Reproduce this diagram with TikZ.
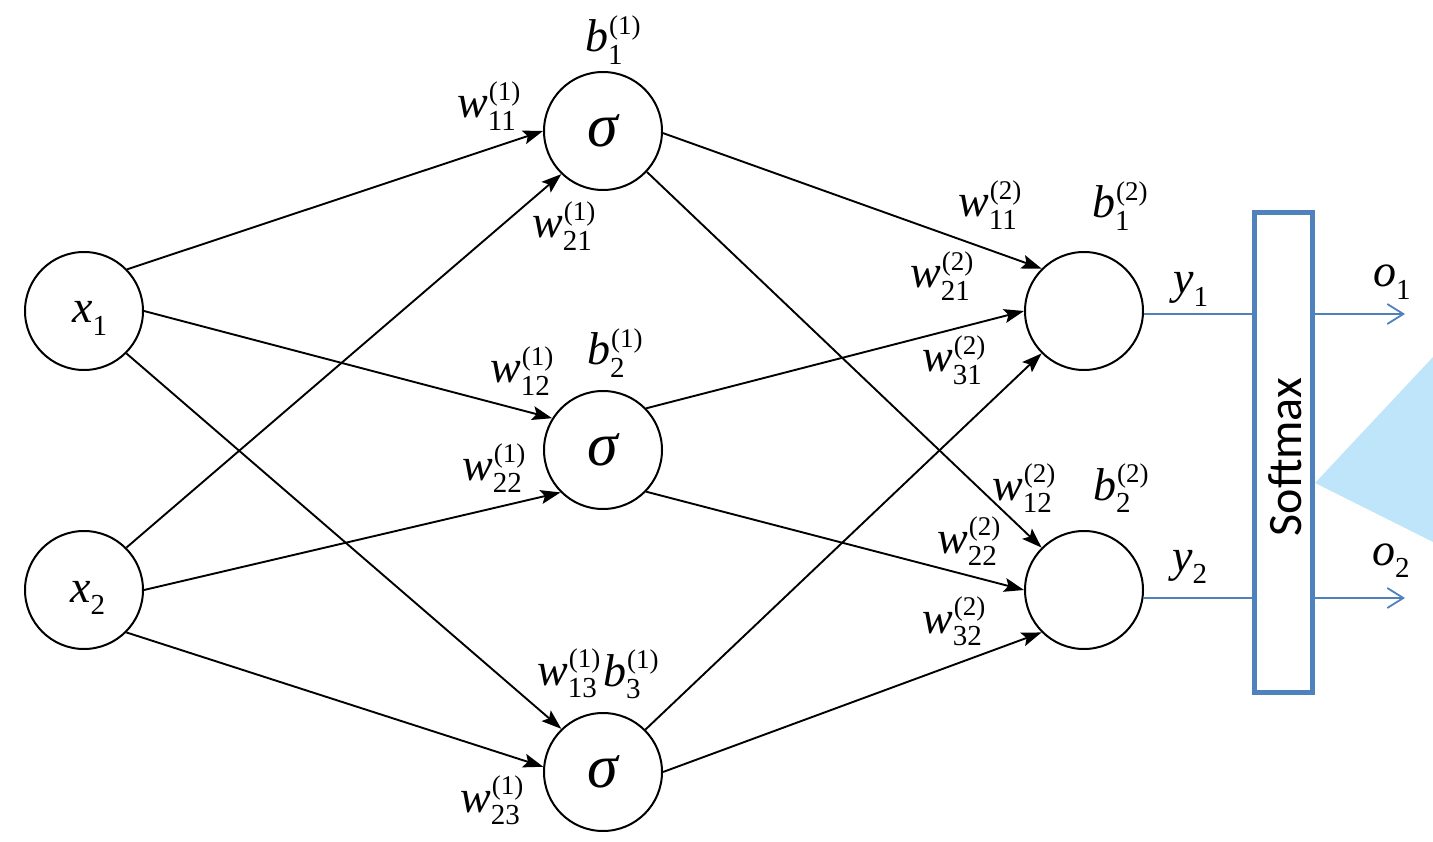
\documentclass[tikz,border=0pt]{standalone}
\usepackage{fontspec}
\setmainfont{Liberation Serif}[ItalicFont={Liberation Serif Italic}]
\newfontfamily\smfont{Carlito}
\usetikzlibrary{arrows.meta}
\definecolor{offblue}{RGB}{79,129,189}
\definecolor{callout}{RGB}{190,229,249}
\newcommand\SubF{\fontsize{29}{29}\selectfont}
\newcommand\SupF{\fontsize{27}{27}\selectfont}
\newcommand\WB[3]{\textit{#1}\rlap{\kern1pt\raisebox{0.39em}{\SupF(#3)}}\raisebox{-0.27em}{\SubF#2}}
\newcommand\XS[2]{\textit{#1}\raisebox{-0.28em}{\SubF#2}}
\begin{document}
\begin{tikzpicture}[x=1pt,y=-1pt,
  neuron/.style={circle,draw,line width=2pt,minimum size=118pt,inner sep=0pt},
  sigmaf/.style={font=\fontsize{62}{62}\selectfont\itshape},
  conn/.style={line width=1.9pt,-{Stealth[length=20pt,width=14pt,inset=4pt]}},
  lbl/.style={anchor=base west,inner sep=0pt,font=\fontsize{46}{46}\selectfont},
  blueline/.style={draw=offblue,line width=1.8pt},
  bluearrow/.style={blueline,-{Straight Barb[length=16pt,width=20pt]}},
  smbox/.style={draw=offblue,line width=4.5pt,minimum width=58pt,minimum height=480pt,inner sep=0pt},
  smtext/.style={rotate=90,font=\smfont\fontsize{48}{48}\selectfont}]
\useasboundingbox (0,0) rectangle (1433,842);
\fill[callout] (1315,483) -- (1433,357) -- (1433,542) -- cycle;

% nodes
\node[neuron] (x1) at (84,311) {};
\node[neuron] (x2) at (84,590) {};
\node[neuron,sigmaf] (h1) at (603,131) {σ};
\node[neuron,sigmaf] (h2) at (603,450) {σ};
\node[neuron,sigmaf] (h3) at (603,772) {σ};
\node[neuron] (o1) at (1084,311) {};
\node[neuron] (o2) at (1084,590) {};
\node[smbox] (sm) at (1283.5,452.5) {};
\node[smtext] (smt) at (1285,457) {Softmax};

% input labels
\node[lbl] (lx1) at (72,323) {\XS{x}{1}};
\node[lbl] (lx2) at (70,602) {\XS{x}{2}};

% layer 1 connections
\draw[conn] (x1.44) -- (h1.180);
\draw[conn] (x1.0) -- (h2.148);
\draw[conn] (x1.-45) -- (h3.134);
\draw[conn] (x2.45) -- (h1.-134);
\draw[conn] (x2.0) -- (h2.-135);
\draw[conn] (x2.-45) -- (h3.175);

% layer 2 connections
\draw[conn] (h1.-2) -- (o1.135);
\draw[conn] (h1.-43) -- (o2.135);
\draw[conn] (h2.44) -- (o1.180);
\draw[conn] (h2.-44) -- (o2.180);
\draw[conn] (h3.45) -- (o1.-135);
\draw[conn] (h3.0) -- (o2.-135);

% layer 1 labels
\node[lbl] (lb11) at (585,52) {\WB{b}{1}{1}};
\node[lbl] (lw111) at (457,118) {\WB{w}{11}{1}};
\node[lbl] (lw211) at (532,238) {\WB{w}{21}{1}};
\node[lbl] (lw121) at (490,383) {\WB{w}{12}{1}};
\node[lbl] (lb21) at (587,365) {\WB{b}{2}{1}};
\node[lbl] (lw221) at (462,480) {\WB{w}{22}{1}};
\node[lbl] (lw131) at (537,685) {\WB{w}{13}{1}};
\node[lbl] (lb31) at (603,686) {\WB{b}{3}{1}};
\node[lbl] (lw231) at (460,812) {\WB{w}{23}{1}};

% layer 2 labels
\node[lbl] (lw112) at (958,217) {\WB{w}{11}{2}};
\node[lbl] (lb12) at (1092,218) {\WB{b}{1}{2}};
\node[lbl] (lw212) at (910,288) {\WB{w}{21}{2}};
\node[lbl] (lw312) at (922,372) {\WB{w}{31}{2}};
\node[lbl] (lw122) at (992,500) {\WB{w}{12}{2}};
\node[lbl] (lb22) at (1093,500) {\WB{b}{2}{2}};
\node[lbl] (lw222) at (937,553) {\WB{w}{22}{2}};
\node[lbl] (lw322) at (922,633) {\WB{w}{32}{2}};

% outputs
\coordinate (e1) at (1405,314);
\coordinate (e2) at (1405,598);
\draw[blueline] (o1.-3) -- (o1.-3 -| sm.west);
\draw[blueline] (o2 |- e2) ++(59,0) -- (sm.west |- e2);
\draw[bluearrow] (sm.east |- e1) -- (e1);
\draw[bluearrow] (sm.east |- e2) -- (e2);
\node[lbl] (ly1) at (1173,294) {\XS{y}{1}};
\node[lbl] (ly2) at (1172,571) {\XS{y}{2}};
\node[lbl] (lo1) at (1373,287) {\XS{o}{1}};
\node[lbl] (lo2) at (1372,565) {\XS{o}{2}};
\end{tikzpicture}
\end{document}
